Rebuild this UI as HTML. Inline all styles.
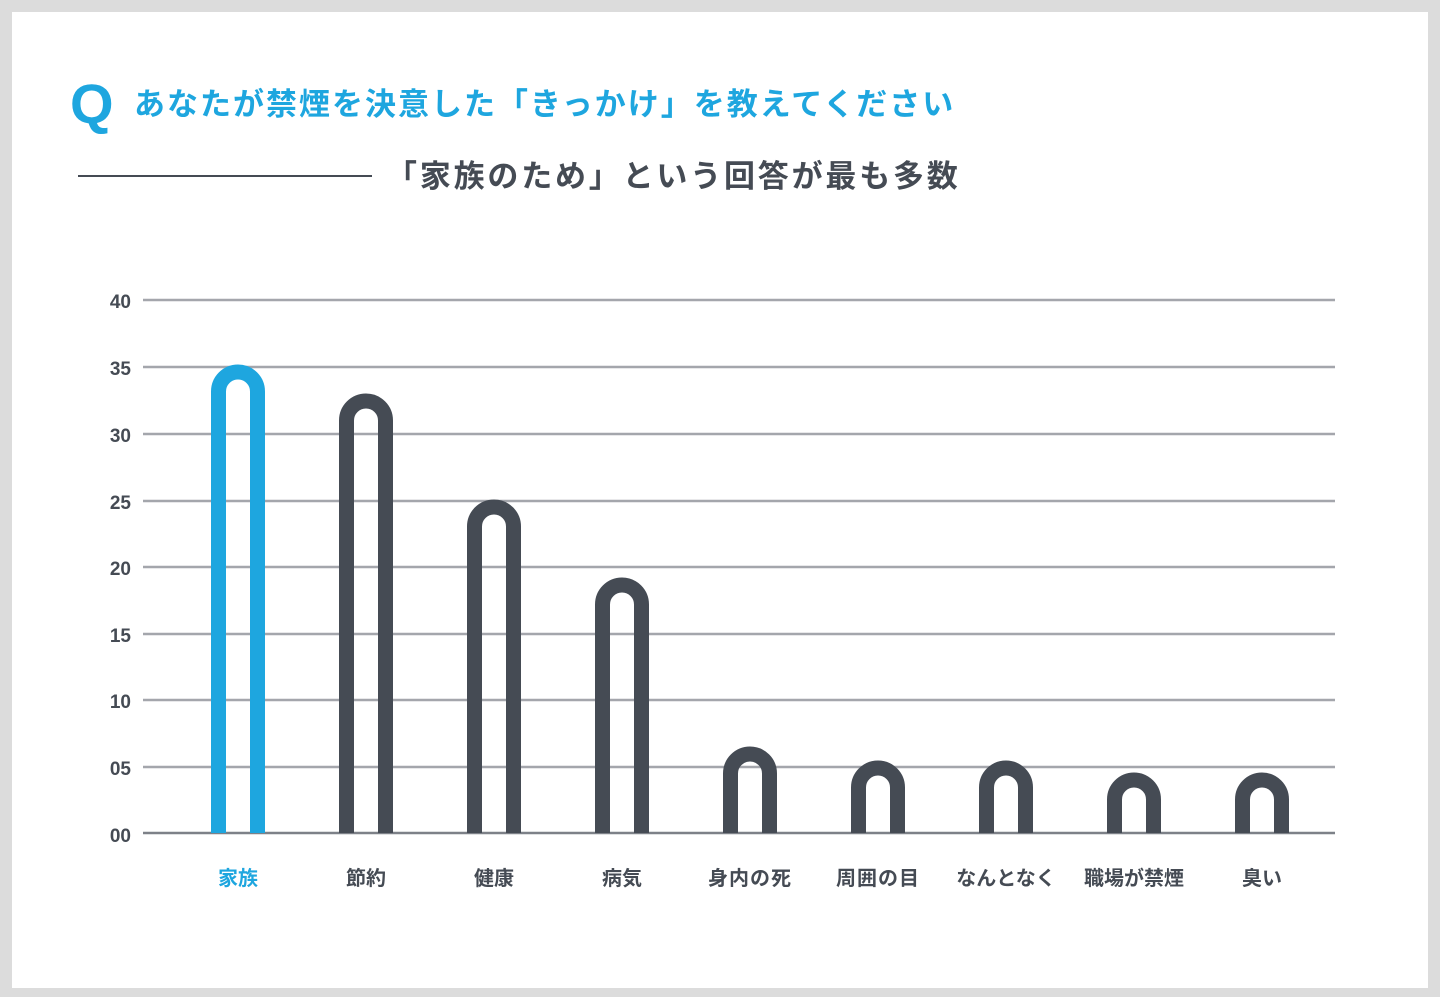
<!DOCTYPE html>
<html><head><meta charset="utf-8"><style>
html,body{margin:0;padding:0}
body{width:1440px;height:997px;background:#dcdcdc;position:relative;overflow:hidden;font-family:"Liberation Sans","Noto Sans CJK JP",sans-serif}
</style></head><body>
<svg width="1440" height="997" style="position:absolute;left:0;top:0" font-family="Liberation Sans, Noto Sans CJK JP, sans-serif">
<rect x="12" y="12" width="1416" height="976" fill="#fff"/>
<text x="70" y="123" font-size="56" font-weight="bold" fill="#1ea6df">Q</text>
<text x="134" y="115" font-size="31" font-weight="bold" fill="#1ea6df" letter-spacing="2">あなたが禁煙を決意した「きっかけ」を教えてください</text>
<line x1="78" y1="176" x2="372" y2="176" stroke="#454b54" stroke-width="2"/>
<text x="386" y="187" font-size="31" font-weight="bold" fill="#454b54" letter-spacing="2.8">「家族のため」という回答が最も多数</text>
<g stroke="#a4a6ac" stroke-width="2.5">
<line x1="143" y1="300" x2="1335" y2="300"/><line x1="143" y1="367" x2="1335" y2="367"/>
<line x1="143" y1="434" x2="1335" y2="434"/><line x1="143" y1="501" x2="1335" y2="501"/>
<line x1="143" y1="567" x2="1335" y2="567"/><line x1="143" y1="634" x2="1335" y2="634"/>
<line x1="143" y1="700" x2="1335" y2="700"/><line x1="143" y1="767" x2="1335" y2="767"/>
</g>
<line x1="143" y1="833" x2="1335" y2="833" stroke="#7d8188" stroke-width="2.5"/>
<g font-size="19" font-weight="bold" fill="#454b54" text-anchor="end">
<text x="131" y="308">40</text><text x="131" y="375">35</text><text x="131" y="442">30</text>
<text x="131" y="509">25</text><text x="131" y="575">20</text><text x="131" y="642">15</text>
<text x="131" y="708">10</text><text x="131" y="775">05</text><text x="131" y="842">00</text>
</g>
<g fill="none" stroke-width="15">
<path d="M218.5 833 V391.5 A19.5 19.5 0 0 1 257.5 391.5 V833" stroke="#1ea6df"/>
<g stroke="#454b54">
<path d="M346.5 833 V420.5 A19.5 19.5 0 0 1 385.5 420.5 V833"/>
<path d="M474.5 833 V526.5 A19.5 19.5 0 0 1 513.5 526.5 V833"/>
<path d="M602.5 833 V604.5 A19.5 19.5 0 0 1 641.5 604.5 V833"/>
<path d="M730.5 833 V773.5 A19.5 19.5 0 0 1 769.5 773.5 V833"/>
<path d="M858.5 833 V787.5 A19.5 19.5 0 0 1 897.5 787.5 V833"/>
<path d="M986.5 833 V787.5 A19.5 19.5 0 0 1 1025.5 787.5 V833"/>
<path d="M1114.5 833 V799.5 A19.5 19.5 0 0 1 1153.5 799.5 V833"/>
<path d="M1242.5 833 V799.5 A19.5 19.5 0 0 1 1281.5 799.5 V833"/>
</g></g>
<g font-size="20" font-weight="bold" fill="#454b54" text-anchor="middle">
<text x="238" y="885" fill="#1ea6df">家族</text>
<text x="366" y="885">節約</text><text x="494" y="885">健康</text><text x="622" y="885">病気</text>
<text x="750" y="885" letter-spacing="1">身内の死</text><text x="878" y="885" letter-spacing="1">周囲の目</text>
<text x="1006" y="885">なんとなく</text><text x="1134" y="885">職場が禁煙</text><text x="1262" y="885">臭い</text>
</g>
</svg>
</body></html>
